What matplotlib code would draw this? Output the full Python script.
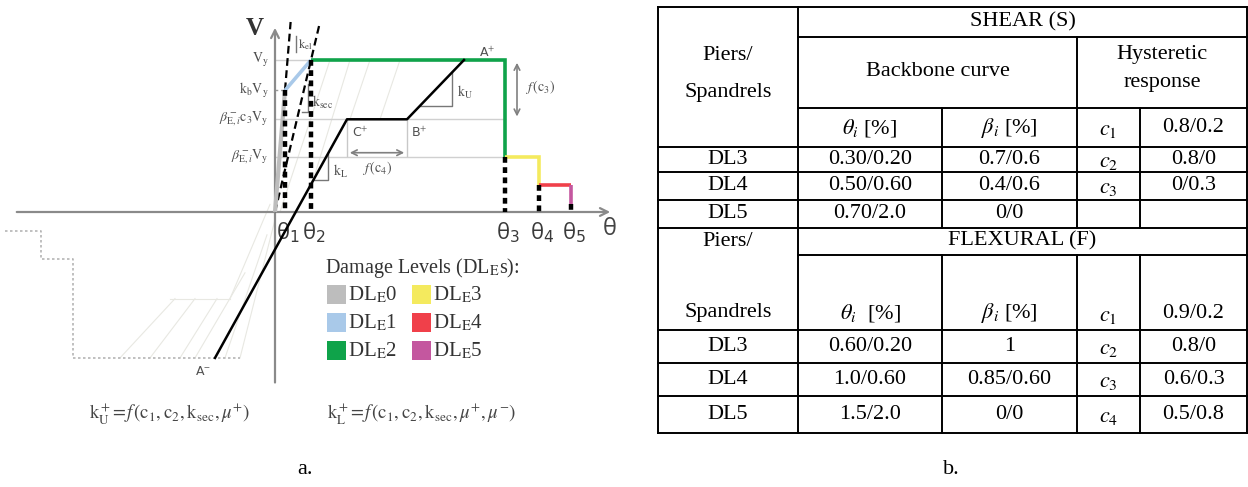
import matplotlib
matplotlib.use("Agg")
import matplotlib.pyplot as plt
from matplotlib.patches import Rectangle

plt.rcParams['font.family'] = ['Liberation Serif', 'DejaVu Serif']
plt.rcParams['mathtext.fontset'] = 'stix'

# ------------------------------------------------------------------ data
# Panel a: schematic backbone (theta in arbitrary units, V normalised by Vy)
theta_dl = [0.10, 0.36, 2.30, 2.64, 2.96]                     # theta_1 .. theta_5
theta_labels = ["θ$_1$", "θ$_2$", "θ$_3$", "θ$_4$", "θ$_5$"]
v_levels = [1.00, 0.80, 0.61, 0.36]                            # Vy, kbVy, beta c3 Vy, beta Vy
v_labels = [r"$\mathrm{V_y}$", r"$\mathrm{k_bV_y}$",
            r"$\beta^-_{\mathrm{E},i}\mathrm{c_3V_y}$", r"$\beta^-_{\mathrm{E},i}\mathrm{V_y}$"]
v_dl4 = 0.18
v_dl5_end = 0.05
backbone_theta = [-0.60, 0.72, 1.32, 1.89]                     # A-, C+, B+, A+
backbone_v = [-0.96, 0.61, 0.61, 1.00]
backbone_labels = [r"A$^{-}$", r"C$^{+}$", r"B$^{+}$", r"A$^{+}$"]
neg_env_theta = [-2.70, -2.34, -2.34, -2.02, -2.02, -0.35]
neg_env_v = [-0.125, -0.125, -0.31, -0.31, -0.96, -0.96]
dl_names = [r"DL$_\mathrm{E}$0", r"DL$_\mathrm{E}$1", r"DL$_\mathrm{E}$2",
            r"DL$_\mathrm{E}$3", r"DL$_\mathrm{E}$4", r"DL$_\mathrm{E}$5"]
dl_colors = ["#bdbdbd", "#a9c9e9", "#0fa34a", "#f4ea5e", "#f0404a", "#c4579f"]

# Panel b: table
dl_rows = ["DL3", "DL4", "DL5"]
shear_theta = ["0.30/0.20", "0.50/0.60", "0.70/2.0"]
shear_beta = ["0.7/0.6", "0.4/0.6", "0/0"]
shear_c_names = [r"$c_1$", r"$c_2$", r"$c_3$"]
shear_c_vals = ["0.8/0.2", "0.8/0", "0/0.3"]
flex_theta = ["0.60/0.20", "1.0/0.60", "1.5/2.0"]
flex_beta = ["1", "0.85/0.60", "0/0"]
flex_c_names = [r"$c_1$", r"$c_2$", r"$c_3$", r"$c_4$"]
flex_c_vals = ["0.9/0.2", "0.8/0", "0.6/0.3", "0.5/0.8"]

# ------------------------------------------------------------------ figure
W, H = 1248, 487
fig = plt.figure(figsize=(W / 100, H / 100), dpi=100)

# pixel-layout axes (table, legend, captions)
axp = fig.add_axes([0, 0, 1, 1])
axp.set_xlim(0, W)
axp.set_ylim(H, 0)
axp.axis('off')

# schematic axes (origin of the V-theta axes at pixel 275, 212)
ax = fig.add_axes([0, 0, 1, 1])
ox, oy, sx, sy = 275, 212, 100.0, 152.0
ax.set_xlim(-ox / sx, (W - ox) / sx)
ax.set_ylim((oy - H) / sy, oy / sy)
ax.axis('off')

GRAY_T = "#505050"
AX_C = "#8a8a8a"
SANS = ['Open Sans', 'DejaVu Sans']

Vy, kbVy, bc3Vy, bVy = v_levels
t1, t2, t3, t4, t5 = theta_dl

# faint hysteresis lines (texture)
faint = dict(color="#e8e8e2", lw=0.8, zorder=1)
for a, b in [((-1.55, -0.96), (-1.00, -0.57)), ((-1.25, -0.96), (-0.80, -0.57)),
             ((-0.95, -0.96), (-0.58, -0.57)), ((-1.05, -0.57), (-0.45, -0.57)),
             ((-0.45, -0.57), (-0.05, 0.05)), ((-0.35, -0.96), (0.0, -0.05)),
             ((-0.50, -0.96), (-0.08, -0.15)), ((-0.80, -0.96), (-0.30, -0.40)),
             ((0.05, 0.0), (0.55, 1.0)), ((0.40, 0.25), (0.75, 1.0)),
             ((0.75, 0.61), (0.95, 1.0)), ((1.05, 0.61), (1.25, 1.0))]:
    ax.plot([a[0], b[0]], [a[1], b[1]], **faint)

# negative envelope (dotted gray)
ax.plot(neg_env_theta, neg_env_v, color="#b5b5b5", lw=1.2, ls=(0, (1.5, 1.5)), zorder=2)

# horizontal guide lines
for lv in [Vy, bc3Vy, bVy]:
    ax.plot([0, t3], [lv, lv], color="#d0d0d0", lw=1.0, zorder=2)
ax.plot([0, t1], [kbVy, kbVy], color="#999999", lw=1.0, ls=(0, (2, 2)), zorder=2)

# axes of the schematic
ax.annotate("", xy=(0, 1.23), xytext=(0, -1.14),
            arrowprops=dict(arrowstyle="->", color=AX_C, lw=1.6, mutation_scale=14), zorder=3)
ax.annotate("", xy=(3.38, 0), xytext=(-2.61, 0),
            arrowprops=dict(arrowstyle="->", color=AX_C, lw=1.6, mutation_scale=14), zorder=3)
ax.text(-0.20, 1.21, "V", fontsize=18, fontweight='bold', color="#333333",
        ha='center', va='center', family=['Liberation Serif'])
ax.text(3.35, -0.11, "θ", fontsize=17, color="#444444", ha='center', va='center',
        family=SANS)

# elastic and secant stiffness (dashed)
k_el_top = 1.25
ax.plot([0, t1 * k_el_top / kbVy], [0, k_el_top], color="black", lw=1.6,
        ls=(0, (3.5, 2.0)), zorder=5)
k_sec_top = 1.23
ax.plot([0, t2 * k_sec_top / Vy], [0, k_sec_top], color="black", lw=1.6,
        ls=(0, (3.5, 2.0)), zorder=5)

# damage-level segments of the backbone
segments = [([0, t1], [0, kbVy]),
            ([t1, t2], [kbVy, Vy]),
            ([t2, t3, t3], [Vy, Vy, bVy]),
            ([t3, t4, t4], [bVy, bVy, v_dl4]),
            ([t4, t5], [v_dl4, v_dl4]),
            ([t5, t5], [v_dl4, v_dl5_end])]
for (xs, ys), c in zip(segments, dl_colors):
    ax.plot(xs, ys, color=c, lw=2.6 if c != dl_colors[0] else 3.0,
            solid_capstyle='butt', solid_joinstyle='miter', zorder=6)

# thick dotted verticals at theta_i
v_tops = [kbVy, Vy, bVy, v_dl4, v_dl5_end]
for th, top in zip(theta_dl, v_tops):
    ax.plot([th, th], [top, 0], color="black", lw=3.2, ls=(0, (1.3, 1.0)), zorder=7)

# theta labels
for th, lab in zip(theta_dl, theta_labels):
    ax.text(th + 0.03, -0.135, lab, fontsize=16, color="#3a3a3a", ha='center', va='center',
            family=SANS, math_fontfamily='dejavusans')

# V level labels
for lv, lab in zip(v_levels, v_labels):
    ax.text(-0.06, lv, lab, fontsize=10, color=GRAY_T, ha='right', va='center')

# black backbone (loading branch)
ax.plot(backbone_theta, backbone_v, color="black", lw=1.8, zorder=6)
label_off = [(-0.12, -0.09), (0.13, -0.09), (0.12, -0.09), (0.23, 0.05)]
for th, v, lab, (dx, dy) in zip(backbone_theta, backbone_v, backbone_labels, label_off):
    ax.text(th + dx, v + dy, lab, fontsize=9, color=GRAY_T, ha='center', va='center',
            family=['DejaVu Sans'])

# slope triangles
ax.plot([0.21, 0.21], [1.16, 1.05], color="#777777", lw=1.0, zorder=4)
ax.text(0.225, 1.10, r"$\mathrm{k_{el}}$", fontsize=9, color=GRAY_T, ha='left', va='center')
ax.plot([0.27, 0.33, 0.33], [0.66, 0.66, 0.84], color="#777777", lw=1.0, zorder=4)
ax.text(0.37, 0.72, r"$\mathrm{k_{sec}}$", fontsize=10, color=GRAY_T, ha='left', va='center')

bk_slope_u = (backbone_v[3] - backbone_v[2]) / (backbone_theta[3] - backbone_theta[2])
tu = 1.77
vu_top = backbone_v[2] + (tu - backbone_theta[2]) * bk_slope_u
vu_bot = 0.70
tu_left = backbone_theta[2] + (vu_bot - backbone_v[2]) / bk_slope_u
ax.plot([tu_left, tu, tu], [vu_bot, vu_bot, vu_top], color="#777777", lw=1.0, zorder=4)
ax.text(tu + 0.05, (vu_bot + vu_top) / 2 - 0.02, r"$\mathrm{k_U}$", fontsize=10, color=GRAY_T,
        ha='left', va='center')

bk_slope_l = (backbone_v[1] - backbone_v[0]) / (backbone_theta[1] - backbone_theta[0])
tl = 0.53
vl_top = backbone_v[0] + (tl - backbone_theta[0]) * bk_slope_l
vl_bot = 0.21
tl_left = backbone_theta[0] + (vl_bot - backbone_v[0]) / bk_slope_l
ax.plot([tl_left, tl, tl], [vl_bot, vl_bot, vl_top], color="#777777", lw=1.0, zorder=4)
ax.text(tl + 0.05, (vl_bot + vl_top) / 2 - 0.03, r"$\mathrm{k_L}$", fontsize=10, color=GRAY_T,
        ha='left', va='center')

# f(c4) horizontal dimension
fc4_v = 0.39
ax.plot([backbone_theta[1]] * 2, [bc3Vy, fc4_v - 0.02], color="#c8c8c8", lw=1.0, zorder=3)
ax.plot([backbone_theta[2]] * 2, [bc3Vy, fc4_v - 0.02], color="#c8c8c8", lw=1.0, zorder=3)
ax.annotate("", xy=(backbone_theta[2], fc4_v), xytext=(backbone_theta[1], fc4_v),
            arrowprops=dict(arrowstyle="<->", color="#808080", lw=1.2, mutation_scale=10))
ax.text((backbone_theta[1] + backbone_theta[2]) / 2, fc4_v - 0.10, r"$f\,(\mathrm{c_4})$",
        fontsize=10, color=GRAY_T, ha='center', va='center')

# f(c3) vertical dimension
fc3_t = 2.42
ax.annotate("", xy=(fc3_t, Vy), xytext=(fc3_t, bc3Vy),
            arrowprops=dict(arrowstyle="<->", color="#808080", lw=1.2, mutation_scale=10))
ax.text(fc3_t + 0.23, (Vy + bc3Vy) / 2 + 0.02, r"$f\,(\mathrm{c_3})$", fontsize=10,
        color=GRAY_T, ha='center', va='center')

# ------------------------------------------------------------------ legend (pixel layout)
axp.text(325, 268, r"Damage Levels (DL$_\mathrm{E}$s):", fontsize=14.5, color="#333333",
         ha='left', va='center')
leg_x = [327, 412]
leg_y = [295, 323, 351]
for i, (name, col) in enumerate(zip(dl_names, dl_colors)):
    cx = leg_x[i // 3]
    cy = leg_y[i % 3]
    axp.add_patch(Rectangle((cx, cy - 10), 19, 19, facecolor=col, edgecolor='none'))
    axp.text(cx + 21, cy, name, fontsize=15, color="#333333", ha='left', va='center')

# formulas and captions
axp.text(170, 413, r"$\mathrm{k_U^+}\!=\!f\,(\mathrm{c_1,c_2,k_{sec}},\mu^{+})$", fontsize=13.5,
         color="#444444", ha='center', va='center')
axp.text(422, 413, r"$\mathrm{k_L^+}\!=\!f\,(\mathrm{c_1,c_2,k_{sec}},\mu^{+},\mu^{-})$",
         fontsize=13.5, color="#444444", ha='center', va='center')
axp.text(305, 470, "a.", fontsize=16, color="black", ha='center', va='center')
axp.text(951, 470, "b.", fontsize=16, color="black", ha='center', va='center')

# ------------------------------------------------------------------ table (pixel layout)
cols = [658, 798, 942, 1077, 1140, 1247]
rows = [7, 37, 108, 147, 172, 200, 228, 255, 330, 363, 396, 433]
LW = 1.4
def hline(y, x0, x1):
    axp.plot([x0, x1], [y, y], color='black', lw=LW, solid_capstyle='projecting')
def vline(x, y0, y1):
    axp.plot([x, x], [y0, y1], color='black', lw=LW, solid_capstyle='projecting')

for y in [rows[0], rows[3], rows[4], rows[5], rows[6], rows[8], rows[9], rows[10], rows[11]]:
    hline(y, cols[0], cols[5])
for y in [rows[1], rows[2], rows[7]]:
    hline(y, cols[1], cols[5])
vline(cols[0], rows[0], rows[11])
vline(cols[5], rows[0], rows[11])
vline(cols[1], rows[0], rows[11])
vline(cols[2], rows[2], rows[6]); vline(cols[2], rows[7], rows[11])
vline(cols[3], rows[1], rows[6]); vline(cols[3], rows[7], rows[11])
vline(cols[4], rows[2], rows[6]); vline(cols[4], rows[7], rows[11])

FS = 16
def cell(x, y, s, **kw):
    axp.text(x, y, s, fontsize=FS, color='black', ha='center', va='center', **kw)

ccol = [(cols[i] + cols[i + 1]) / 2 for i in range(5)]
# shear header
cell((cols[1] + cols[5]) / 2, 22, "SHEAR (S)")
cell(ccol[0], 55, "Piers/")
cell(ccol[0], 93, "Spandrels")
cell((cols[1] + cols[3]) / 2, 72, "Backbone curve")
cell((cols[3] + cols[5]) / 2, 55, "Hysteretic")
cell((cols[3] + cols[5]) / 2, 82, "response")
hdr_y1 = 128
cell(ccol[1], hdr_y1, r"$\theta_i$ [%]")
cell(ccol[2], hdr_y1, r"$\beta_i$ [%]")
cell(ccol[3], hdr_y1 + 3, shear_c_names[0])
cell(ccol[4], hdr_y1, shear_c_vals[0])
body1 = [(rows[3] + rows[4]) / 2, (rows[4] + rows[5]) / 2, (rows[5] + rows[6]) / 2]
for i, y in enumerate(body1):
    cell(ccol[0], y, dl_rows[i])
    cell(ccol[1], y, shear_theta[i])
    cell(ccol[2], y, shear_beta[i])
    if i + 1 < len(shear_c_names):
        cell(ccol[3], y + 3, shear_c_names[i + 1])
        cell(ccol[4], y, shear_c_vals[i + 1])

# flexural header
cell(ccol[0], 241, "Piers/")
cell((cols[1] + cols[5]) / 2, 241, "FLEXURAL (F)")
hdr_y2 = 313
cell(ccol[0], hdr_y2, "Spandrels")
cell(ccol[1], hdr_y2, r"$\theta_i$  [%]")
cell(ccol[2], hdr_y2, r"$\beta_i$ [%]")
cell(ccol[3], hdr_y2 + 3, flex_c_names[0])
cell(ccol[4], hdr_y2, flex_c_vals[0])
body2 = [(rows[8] + rows[9]) / 2, (rows[9] + rows[10]) / 2, (rows[10] + rows[11]) / 2]
for i, y in enumerate(body2):
    cell(ccol[0], y, dl_rows[i])
    cell(ccol[1], y, flex_theta[i])
    cell(ccol[2], y, flex_beta[i])
    cell(ccol[3], y + 3, flex_c_names[i + 1])
    cell(ccol[4], y, flex_c_vals[i + 1])

fig.savefig("out.png", dpi=100)
